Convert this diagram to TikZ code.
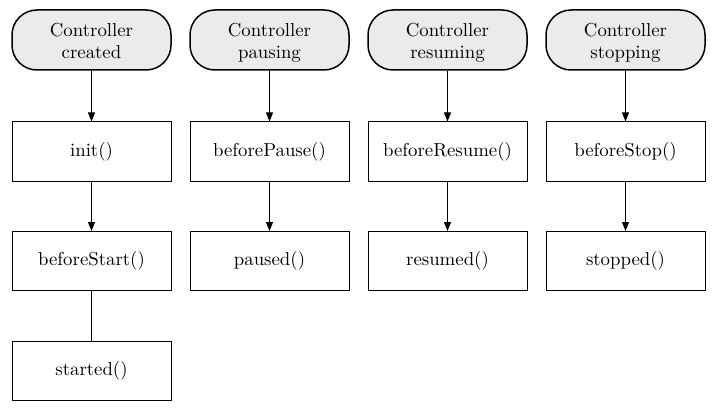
\documentclass[tikz,border=0pt]{standalone}
\usepackage{fontspec}
\setmainfont{lmroman10-regular}[Extension=.otf]
\usetikzlibrary{arrows.meta}
\definecolor{stadfill}{HTML}{EBEBEB}
\begin{document}
\begin{tikzpicture}[x=1pt,y=-1pt,
  stad/.style={draw=black,line width=1.5pt,fill=stadfill,rounded corners=25pt,
    minimum width=159pt,minimum height=60pt,inner sep=0pt},
  stadtext/.style={inner sep=0pt,align=center,
    font=\fontsize{18.8}{22}\selectfont},
  proc/.style={draw=black,line width=1pt,fill=white,
    minimum width=159pt,minimum height=59pt,inner sep=0pt,align=center,
    font=\fontsize{18.8}{22}\selectfont},
  flow/.style={draw=black,line width=1pt,-{Triangle[width=7pt,length=9pt]}},
  plain/.style={draw=black,line width=1pt}]
\useasboundingbox (0,0) rectangle (716,412);
% start/state boxes
\node[stad] (s1) at (91.5,40) {};
\node[stad] (s2) at (269.5,40) {};
\node[stad] (s3) at (447.5,40) {};
\node[stad] (s4) at (625.5,40) {};
\node[stadtext] (t1) at (91.5,42.5) {Controller\\created\vphantom{g}};
\node[stadtext] (t2) at (269.5,42.5) {Controller\\pausing};
\node[stadtext] (t3) at (447.5,42.5) {Controller\\resuming};
\node[stadtext] (t4) at (625.5,42.5) {Controller\\stopping};
% process boxes
\node[proc] (init) at (91.5,151.5) {init()};
\node[proc] (bpause) at (269.5,151.5) {beforePause()};
\node[proc] (bresume) at (447.5,151.5) {beforeResume()};
\node[proc] (bstop) at (625.5,151.5) {beforeStop()};
\node[proc] (bstart) at (91.5,261) {beforeStart()};
\node[proc] (paused) at (269.5,261) {paused()};
\node[proc] (resumed) at (447.5,261) {resumed()};
\node[proc] (stopped) at (625.5,261) {stopped()};
\node[proc] (started) at (91.5,371) {started()};
% connectors
\draw[flow] (s1) -- (init);
\draw[flow] (s2) -- (bpause);
\draw[flow] (s3) -- (bresume);
\draw[flow] (s4) -- (bstop);
\draw[flow] (init) -- (bstart);
\draw[flow] (bpause) -- (paused);
\draw[flow] (bresume) -- (resumed);
\draw[flow] (bstop) -- (stopped);
\draw[plain] (bstart) -- (started);
\end{tikzpicture}
\end{document}
